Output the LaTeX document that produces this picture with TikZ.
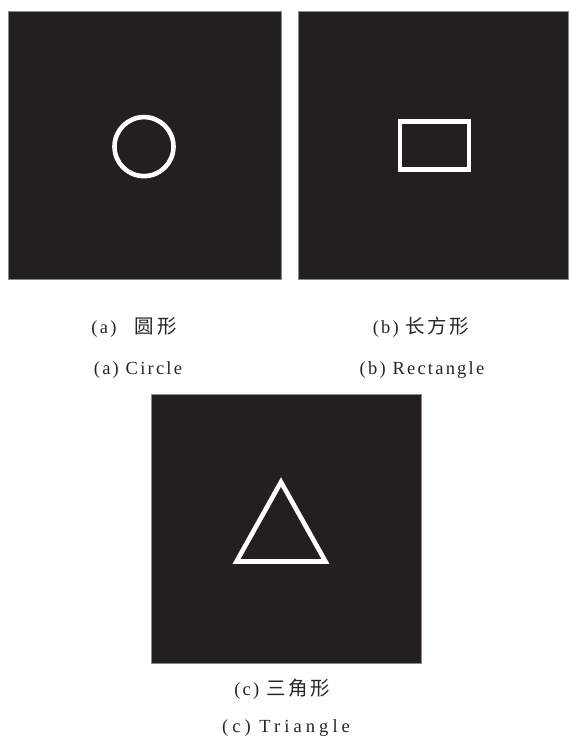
\documentclass[tikz,border=0pt]{standalone}
\usepackage{fontspec}
\setmainfont{Liberation Serif}[LetterSpace=12]
\newfontfamily\cjk{Noto Sans CJK SC}[LetterSpace=13]
\newfontfamily\widelat{Liberation Serif}[LetterSpace=22]
\definecolor{panel}{HTML}{231F20}
\definecolor{edge}{HTML}{8A8A8A}
\begin{document}
\begin{tikzpicture}[x=1pt,y=-1pt,
  panelbox/.style={fill=panel,draw=edge,line width=0.6pt},
  shapeline/.style={draw=white,line width=4.6pt},
  captext/.style={anchor=base,inner sep=0pt,font=\fontsize{18.5}{22}\selectfont,text=black!85}]
\useasboundingbox (0,0) rectangle (568,736);
\fill[white] (0,0) rectangle (568,736);
% panels
\path[panelbox] (8,11) rectangle (281,279);
\path[panelbox] (298,11) rectangle (568.5,279);
\path[panelbox] (151,394) rectangle (421,663);
% shapes
\draw[shapeline] (144,146.6) circle (29.5);
\draw[shapeline] (400,121.3) rectangle (469,169.7);
\draw[shapeline,line join=miter] (281,482) -- (325.5,561.5) -- (236.5,561.5) -- cycle;
% captions
\node[captext] (la1) at (134,333) {(a)\quad{\cjk\fontsize{19.5}{22}\selectfont 圆形}};
\node[captext] (lb1) at (421,333) {(b) {\cjk\fontsize{19.5}{22}\selectfont 长方形}};
\node[captext] (la2) at (138,374) {(a) Circle};
\node[captext] (lb2) at (422,374) {(b) Rectangle};
\node[captext] (lc1) at (282,695) {(c) {\cjk\fontsize{19.5}{22}\selectfont 三角形}};
\node[captext] (lc2) at (286,732) {\widelat (c) Triangle};
\end{tikzpicture}
\end{document}
